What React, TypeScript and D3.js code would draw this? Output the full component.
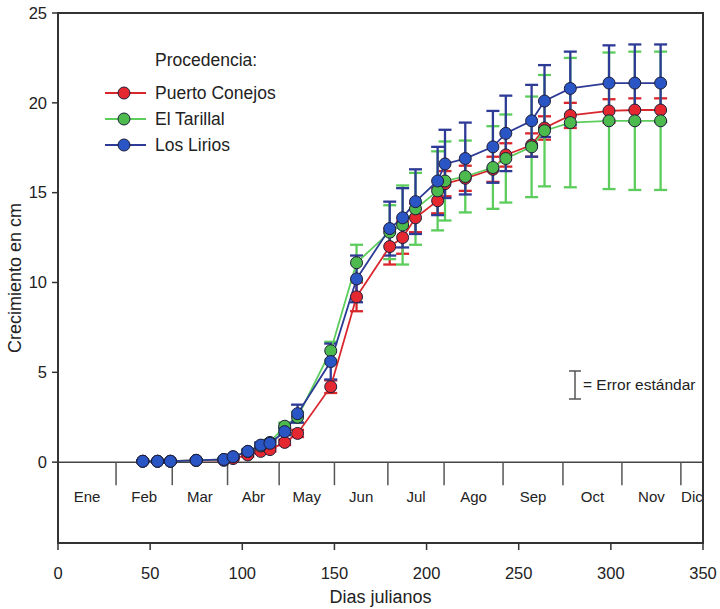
import React from 'react';
import * as d3 from 'd3';

// julian days of each measurement
const days = [46, 54, 61, 75, 90, 95, 103, 110, 115, 123, 130, 148, 162, 180, 187, 194, 206, 210, 221, 236, 243, 257, 264, 278, 299, 313, 327];

const puertoConejos = [0.05, 0.05, 0.05, 0.1, 0.1, 0.2, 0.4, 0.6, 0.7, 1.1, 1.6, 4.2, 9.2, 12.0, 12.5, 13.6, 14.55, 15.5, 15.8, 16.3, 17.1, 17.65, 18.6, 19.3, 19.55, 19.6, 19.6];
const puertoConejosErr = [0.05, 0.05, 0.05, 0.05, 0.05, 0.05, 0.1, 0.1, 0.1, 0.15, 0.2, 0.35, 0.8, 1.0, 0.9, 0.8, 0.7, 0.7, 0.7, 0.7, 0.65, 0.65, 0.65, 0.7, 0.65, 0.65, 0.65];

const elTarillal = [0.05, 0.05, 0.05, 0.1, 0.15, 0.3, 0.6, 0.9, 1.1, 2.0, 2.5, 6.2, 11.1, 12.8, 13.2, 14.1, 15.1, 15.65, 15.9, 16.4, 16.9, 17.55, 18.45, 18.9, 19.0, 19.0, 19.0];
const elTarillalErr = [0.05, 0.05, 0.05, 0.05, 0.05, 0.05, 0.1, 0.15, 0.15, 0.2, 0.3, 0.5, 1.0, 1.5, 2.2, 2.0, 2.2, 2.2, 2.0, 2.3, 2.45, 2.8, 3.1, 3.6, 3.8, 3.85, 3.85];

const losLirios = [0.05, 0.05, 0.05, 0.1, 0.15, 0.3, 0.6, 0.95, 1.05, 1.7, 2.7, 5.6, 10.2, 13.0, 13.6, 14.5, 15.65, 16.6, 16.9, 17.55, 18.3, 19.0, 20.1, 20.8, 21.1, 21.1, 21.1];
const losLiriosErr = [0.05, 0.05, 0.05, 0.05, 0.05, 0.05, 0.1, 0.15, 0.15, 0.2, 0.5, 1.0, 1.3, 1.5, 1.65, 1.8, 1.9, 1.9, 2.0, 2.0, 2.1, 2.0, 2.0, 2.05, 2.1, 2.15, 2.15];

const months = ['Ene', 'Feb', 'Mar', 'Abr', 'May', 'Jun', 'Jul', 'Ago', 'Sep', 'Oct', 'Nov', 'Dic'];
const monthBounds = [0, 31.5, 62, 92, 120, 150, 179, 209.5, 241.5, 274, 306, 338, 350];

const xTicks = [0, 50, 100, 150, 200, 250, 300, 350];
const yTicks = [0, 5, 10, 15, 20, 25];

const width = 720;
const height = 609;
const left = 58, right = 703, top = 13, bottom = 543;
const font = '"Liberation Sans", Arial, sans-serif';

const series = [
  { name: 'Puerto Conejos', values: puertoConejos, err: puertoConejosErr, line: '#d8262c', fill: '#e52830' },
  { name: 'El Tarillal', values: elTarillal, err: elTarillalErr, line: '#5ccd5c', fill: '#4cba4c' },
  { name: 'Los Lirios', values: losLirios, err: losLiriosErr, line: '#2e3b96', fill: '#2a55c4' },
];

export default function App() {
  const x = d3.scaleLinear().domain([0, 350]).range([left, right]);
  const y = d3.scaleLinear().domain([-4.5, 25]).range([bottom, top]);

  const line = d3.line<number>()
    .x((_, i) => x(days[i]))
    .y((d) => y(d));

  const cap = 6.5;

  return (
    <svg width={width} height={height} style={{ position: 'absolute', left: 0, top: 0, background: '#fff' }} fontFamily={font}>
      {/* month strip */}
      <line x1={left} x2={right} y1={y(0)} y2={y(0)} stroke="#444" strokeWidth={1.5} />
      {monthBounds.slice(1, -1).map((b) => (
        <line key={b} x1={x(b)} x2={x(b)} y1={y(0)} y2={y(0) + 23} stroke="#555" strokeWidth={1.5} />
      ))}
      {months.map((m, i) => (
        <text key={m} x={x((monthBounds[i] + monthBounds[i + 1]) / 2)} y={y(0) + 40} textAnchor="middle" fontSize={15} fill="#222">{m}</text>
      ))}

      {/* error bars */}
      {series.map((s) => (
        <g key={s.name + 'err'} stroke={s.line} strokeWidth={2.3}>
          {s.values.map((v, i) => (
            <g key={i}>
              <line x1={x(days[i])} x2={x(days[i])} y1={y(v - s.err[i])} y2={y(v + s.err[i])} />
              <line x1={x(days[i]) - cap} x2={x(days[i]) + cap} y1={y(v - s.err[i])} y2={y(v - s.err[i])} />
              <line x1={x(days[i]) - cap} x2={x(days[i]) + cap} y1={y(v + s.err[i])} y2={y(v + s.err[i])} />
            </g>
          ))}
        </g>
      ))}

      {/* lines */}
      {series.map((s) => (
        <path key={s.name + 'line'} d={line(s.values) || ''} fill="none" stroke={s.line} strokeWidth={1.8} />
      ))}

      {/* markers */}
      {series.map((s) => (
        <g key={s.name + 'pts'}>
          {s.values.map((v, i) => (
            <circle key={i} cx={x(days[i])} cy={y(v)} r={6} fill={s.fill} stroke="#1d1d3a" strokeWidth={1} />
          ))}
        </g>
      ))}

      {/* frame */}
      <rect x={left} y={top} width={right - left} height={bottom - top} fill="none" stroke="#333" strokeWidth={2} />

      {/* y axis */}
      {yTicks.map((t) => (
        <g key={t}>
          <line x1={left - 6} x2={left} y1={y(t)} y2={y(t)} stroke="#333" strokeWidth={1.5} />
          <text x={left - 11} y={y(t)} dy="0.35em" textAnchor="end" fontSize={16.5} fill="#222">{t}</text>
        </g>
      ))}
      <text transform={`translate(21, ${(top + bottom) / 2}) rotate(-90)`} textAnchor="middle" fontSize={18} fill="#222">Crecimiento en cm</text>

      {/* x axis */}
      {xTicks.map((t) => (
        <g key={t}>
          <line x1={x(t)} x2={x(t)} y1={bottom} y2={bottom + 7} stroke="#333" strokeWidth={1.5} />
          <text x={x(t)} y={bottom + 30} dy="0.35em" textAnchor="middle" fontSize={16.5} fill="#222">{t}</text>
        </g>
      ))}
      <text x={(left + right) / 2} y={603} textAnchor="middle" fontSize={18} fill="#222">Dias julianos</text>

      {/* legend */}
      <text x={155} y={66} fontSize={17.5} fill="#222">Procedencia:</text>
      {series.map((s, i) => (
        <g key={s.name + 'leg'} transform={`translate(0, ${93 + i * 26})`}>
          <line x1={105} x2={146} y1={0} y2={0} stroke={s.line} strokeWidth={1.8} />
          <circle cx={124} cy={0} r={6} fill={s.fill} stroke="#1d1d3a" strokeWidth={1} />
          <text x={155} y={0} dy="0.35em" fontSize={17.5} fill="#222">{s.name}</text>
        </g>
      ))}

      {/* error legend */}
      <g stroke="#555" strokeWidth={1.5}>
        <line x1={575} x2={575} y1={371} y2={399} />
        <line x1={569} x2={581} y1={371} y2={371} />
        <line x1={569} x2={581} y1={399} y2={399} />
      </g>
      <text x={583} y={385} dy="0.35em" fontSize={15.5} fill="#222">= Error estándar</text>
    </svg>
  );
}
